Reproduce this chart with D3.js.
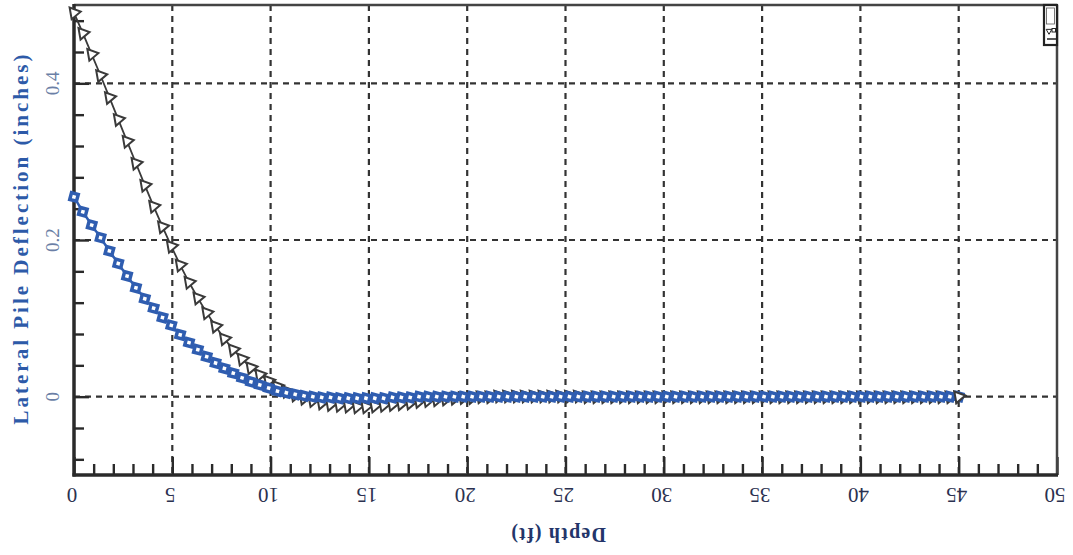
<!DOCTYPE html>
<html>
<head>
<meta charset="utf-8">
<script src="https://cdn.jsdelivr.net/npm/d3@7"></script>
<style>
  html, body { margin: 0; padding: 0; background: #ffffff; }
  svg { display: block; }
</style>
</head>
<body>
<svg id="chart" width="1073" height="555"></svg>
<script>
// ---- Data ----
const depthFt = [
  0, 0.45, 0.9, 1.35, 1.8, 2.25, 2.7, 3.15, 3.6, 4.05,
  4.5, 4.95, 5.4, 5.85, 6.3, 6.75, 7.2, 7.65, 8.1, 8.55,
  9, 9.45, 9.9, 10.35, 10.8, 11.25, 11.7, 12.15, 12.6, 13.05,
  13.5, 13.95, 14.4, 14.85, 15.3, 15.75, 16.2, 16.65, 17.1, 17.55,
  18, 18.45, 18.9, 19.35, 19.8, 20.25, 20.7, 21.15, 21.6, 22.05,
  22.5, 22.95, 23.4, 23.85, 24.3, 24.75, 25.2, 25.65, 26.1, 26.55,
  27, 27.45, 27.9, 28.35, 28.8, 29.25, 29.7, 30.15, 30.6, 31.05,
  31.5, 31.95, 32.4, 32.85, 33.3, 33.75, 34.2, 34.65, 35.1, 35.55,
  36, 36.45, 36.9, 37.35, 37.8, 38.25, 38.7, 39.15, 39.6, 40.05,
  40.5, 40.95, 41.4, 41.85, 42.3, 42.75, 43.2, 43.65, 44.1, 44.55,
  45
];

// dark grey series (open triangles)
const deflectionGrey = [
  0.490, 0.464, 0.437, 0.410, 0.382, 0.354, 0.326, 0.298, 0.270, 0.243,
  0.217, 0.192, 0.168, 0.146, 0.126, 0.107, 0.090, 0.074, 0.060, 0.048,
  0.037, 0.028, 0.020, 0.013, 0.007, 0.002, -0.002, -0.005, -0.008, -0.010,
  -0.011, -0.012, -0.013, -0.013, -0.012, -0.011, -0.010, -0.009, -0.008, -0.006,
  -0.005, -0.004, -0.003, -0.002, -0.001, -0.001, 0.000, 0.000, 0.001, 0.001,
  0.001, 0.001, 0.001, 0.001, 0.001, 0.001, 0.001, 0.001, 0.000, 0.000,
  0.000, 0.000, 0.000, 0.000, 0.000, 0.000, 0.000, 0.000, 0.000, 0.000,
  0.000, 0.000, 0.000, 0.000, 0.000, 0.000, 0.000, 0.000, 0.000, 0.000,
  0.000, 0.000, 0.000, 0.000, 0.000, 0.000, 0.000, 0.000, 0.000, 0.000,
  0.000, 0.000, 0.000, 0.000, 0.000, 0.000, 0.000, 0.000, 0.000, 0.000,
  0.000
];

// blue series (squares)
const deflectionBlue = [
  0.255, 0.236, 0.219, 0.203, 0.186, 0.170, 0.154, 0.139, 0.125, 0.113,
  0.101, 0.091, 0.079, 0.069, 0.060, 0.051, 0.043, 0.036, 0.030, 0.024,
  0.019, 0.015, 0.011, 0.007, 0.005, 0.003, 0.001, 0.000, -0.001, -0.001,
  -0.002, -0.002, -0.002, -0.002, -0.002, -0.002, -0.001, -0.001, -0.001, 0.000,
  0.000, 0.000, 0.000, 0.000, 0.000, 0.000, 0.000, 0.000, 0.000, 0.000,
  0.000, 0.000, 0.000, 0.000, 0.000, 0.000, 0.000, 0.000, 0.000, 0.000,
  0.000, 0.000, 0.000, 0.000, 0.000, 0.000, 0.000, 0.000, 0.000, 0.000,
  0.000, 0.000, 0.000, 0.000, 0.000, 0.000, 0.000, 0.000, 0.000, 0.000,
  0.000, 0.000, 0.000, 0.000, 0.000, 0.000, 0.000, 0.000, 0.000, 0.000,
  0.000, 0.000, 0.000, 0.000, 0.000, 0.000, 0.000, 0.000, 0.000, 0.000,
  0.000
];

const xTickValues = [0, 5, 10, 15, 20, 25, 30, 35, 40, 45, 50];
const xTickLabels = ["0", "5", "10", "15", "20", "25", "30", "35", "40", "45", "50"];
const yTickValues = [0, 0.2, 0.4];
const yTickLabels = ["0", "0.2", "0.4"];
const xMinorTicks = [1,2,3,4,6,7,8,9,11,12,13,14,16,17,18,19,21,22,23,24,26,27,28,29,31,32,33,34,36,37,38,39,41,42,43,44,46,47,48,49];
const yMinorTicks = [-0.08, -0.04, 0.04, 0.08, 0.12, 0.16, 0.24, 0.28, 0.32, 0.36, 0.44, 0.48];
const xGridValues = [5, 10, 15, 20, 25, 30, 35, 40, 45];
const yGridValues = [0, 0.2, 0.4];
const xTitle = "Depth (ft)";
const yTitle = "Lateral Pile Deflection (inches)";

// ---- Layout ----
const plot = { left: 74, right: 1057, top: 5, bottom: 475 };
const svg = d3.select("#chart");

const x = d3.scaleLinear().domain([0, 50]).range([plot.left, plot.right]);
const y = d3.scaleLinear().domain([-0.1, 0.5]).range([plot.bottom, plot.top]);

const gridColor = "#333333";
const greyColor = "#3a3a3a";
const blueColor = "#2f5db0";
const serif = "'Liberation Serif', 'DejaVu Serif', serif";

// grid
const grid = svg.append("g");
grid.selectAll("line.v").data(xGridValues).join("line")
  .attr("x1", d => x(d)).attr("x2", d => x(d))
  .attr("y1", plot.top).attr("y2", plot.bottom)
  .attr("stroke", gridColor).attr("stroke-width", 2.2)
  .attr("stroke-dasharray", "6,5");
grid.selectAll("line.h").data(yGridValues).join("line")
  .attr("x1", plot.left).attr("x2", plot.right)
  .attr("y1", d => y(d)).attr("y2", d => y(d))
  .attr("stroke", gridColor).attr("stroke-width", 2.2)
  .attr("stroke-dasharray", "6,5");

// axes (ticks pointing inward)
const xAxisMajor = d3.axisTop(x).tickValues(xTickValues).tickSize(18).tickFormat("");
const xAxisMinor = d3.axisTop(x).tickValues(xMinorTicks).tickSize(11).tickFormat("");
const yAxisMajor = d3.axisRight(y).tickValues(yTickValues).tickSize(15).tickFormat("");
const yAxisMinor = d3.axisRight(y).tickValues(yMinorTicks).tickSize(10).tickFormat("");

function styleAxis(g) {
  g.select(".domain").remove();
  g.selectAll(".tick line").attr("stroke", "#2a2a2a").attr("stroke-width", 2.4);
}
svg.append("g").attr("transform", `translate(0,${plot.bottom})`).call(xAxisMajor).call(styleAxis);
svg.append("g").attr("transform", `translate(0,${plot.bottom})`).call(xAxisMinor).call(styleAxis);
svg.append("g").attr("transform", `translate(${plot.left},0)`).call(yAxisMajor).call(styleAxis);
svg.append("g").attr("transform", `translate(${plot.left},0)`).call(yAxisMinor).call(styleAxis);

// frame
svg.append("line").attr("x1", plot.left).attr("x2", plot.right).attr("y1", plot.top).attr("y2", plot.top)
  .attr("stroke", "#444").attr("stroke-width", 2.5);
svg.append("line").attr("x1", plot.right).attr("x2", plot.right).attr("y1", plot.top).attr("y2", plot.bottom)
  .attr("stroke", "#444").attr("stroke-width", 2.5);
svg.append("line").attr("x1", plot.left).attr("x2", plot.left).attr("y1", plot.top - 1).attr("y2", plot.bottom + 1.5)
  .attr("stroke", "#2a2a2a").attr("stroke-width", 3.5);
svg.append("line").attr("x1", plot.left - 1.5).attr("x2", plot.right + 1).attr("y1", plot.bottom).attr("y2", plot.bottom)
  .attr("stroke", "#2a2a2a").attr("stroke-width", 3.5);

// tick labels: x rotated 180 degrees, y rotated -90
svg.append("g").selectAll("text").data(xTickValues).join("text")
  .attr("transform", d => `translate(${x(d) - 2},${495}) rotate(180)`)
  .attr("text-anchor", "middle").attr("dominant-baseline", "central")
  .attr("font-family", serif).attr("font-size", 21)
  .attr("fill", "#2b3150")
  .text((d, i) => xTickLabels[i]);

svg.append("g").selectAll("text").data(yTickValues).join("text")
  .attr("transform", d => `translate(${52},${y(d)}) rotate(-90)`)
  .attr("text-anchor", "middle").attr("dominant-baseline", "central")
  .attr("font-family", serif).attr("font-size", 19)
  .attr("fill", "#6b7fa6")
  .text((d, i) => yTickLabels[i]);

// titles
svg.append("text")
  .attr("transform", `translate(558,535) rotate(180)`)
  .attr("text-anchor", "middle").attr("dominant-baseline", "central")
  .attr("font-family", serif).attr("font-size", 20).attr("font-weight", "bold")
  .attr("letter-spacing", 1.2)
  .attr("fill", "#23356a")
  .text(xTitle);

svg.append("text")
  .attr("transform", `translate(21,238) rotate(-90)`)
  .attr("text-anchor", "middle").attr("dominant-baseline", "central")
  .attr("font-family", serif).attr("font-size", 21).attr("font-weight", "bold")
  .attr("letter-spacing", 3)
  .attr("fill", "#2d5aa8")
  .text(yTitle);

// series
const greyData = depthFt.map((d, i) => ({ d, v: deflectionGrey[i] }));
const blueData = depthFt.map((d, i) => ({ d, v: deflectionBlue[i] }));
const line = d3.line().x(p => x(p.d)).y(p => y(p.v));

svg.append("path").datum(greyData).attr("d", line)
  .attr("fill", "none").attr("stroke", greyColor).attr("stroke-width", 1.8);
const tri = d3.symbol().type(d3.symbolTriangle).size(60);
svg.append("g").selectAll("path").data(greyData).join("path")
  .attr("d", tri)
  .attr("transform", p => `translate(${x(p.d)},${y(p.v)}) rotate(200)`)
  .attr("fill", "#ffffff").attr("stroke", greyColor).attr("stroke-width", 2);

svg.append("path").datum(blueData).attr("d", line)
  .attr("fill", "none").attr("stroke", blueColor).attr("stroke-width", 2.5);
svg.append("g").selectAll("rect").data(blueData).join("rect")
  .attr("x", p => x(p.d) - 3.5).attr("y", p => y(p.v) - 3.5)
  .attr("width", 7).attr("height", 7)
  .attr("transform", p => `rotate(15,${x(p.d)},${y(p.v)})`)
  .attr("fill", "#ffffff").attr("stroke", blueColor).attr("stroke-width", 3.5);

// last grey marker on top at the pile tip
const tri2 = d3.symbol().type(d3.symbolTriangle).size(60);
svg.append("g").selectAll("path").data(greyData.slice(-1)).join("path")
  .attr("d", tri2)
  .attr("transform", p => `translate(${x(p.d)},${y(p.v)}) rotate(200)`)
  .attr("fill", "#ffffff").attr("stroke", greyColor).attr("stroke-width", 2);

// small clipped legend box in the top-right corner
const lg = svg.append("g");
lg.append("rect").attr("x", 1044).attr("y", 5).attr("width", 13).attr("height", 40)
  .attr("fill", "#ffffff").attr("stroke", "#222").attr("stroke-width", 2.2);
lg.append("rect").attr("x", 1046.5).attr("y", 8).attr("width", 8).attr("height", 16)
  .attr("fill", "#ffffff").attr("stroke", "#555").attr("stroke-width", 0.8);
lg.append("path").attr("d", d3.symbol().type(d3.symbolTriangle).size(14)).attr("transform", "translate(1049,31) rotate(180)")
  .attr("fill", "none").attr("stroke", "#222").attr("stroke-width", 1);
lg.append("rect").attr("x", 1052).attr("y", 28.5).attr("width", 3.5).attr("height", 3.5)
  .attr("fill", "none").attr("stroke", "#222").attr("stroke-width", 1);
lg.append("line").attr("x1", 1047).attr("x2", 1056).attr("y1", 39).attr("y2", 39)
  .attr("stroke", "#222").attr("stroke-width", 1.5);
</script>
</body>
</html>
